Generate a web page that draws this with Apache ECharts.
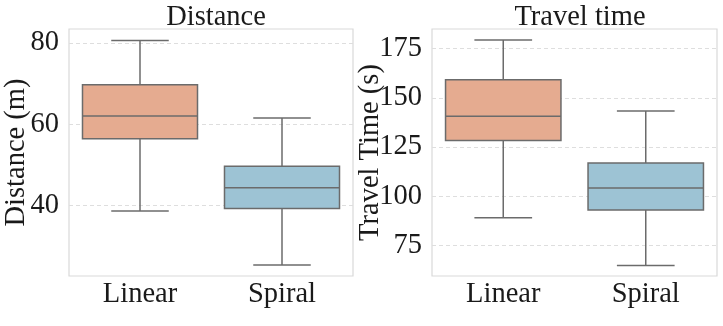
<!doctype html>
<html lang="en">
<head>
    <meta charset="utf-8">
    <title>Distance / Travel time</title>
    <style>
        html, body { margin: 0; padding: 0; background: #fff; }
    </style>
</head>
<body>

<div id="main" style="width:723px;height:326px;"></div>

<script src="https://cdn.jsdelivr.net/npm/echarts@6/dist/echarts.min.js"></script>

<script>

    var myChart = echarts.init(document.getElementById('main'));

    // categories
    var methods = ['Linear', 'Spiral'];
    var boxColors = ['#E5AB90', '#9DC3D4'];

    // [min, q1, median, q3, max]
    var distLinear = [38.6, 56.4, 62.0, 69.7, 80.6];
    var distSpiral = [25.3, 39.2, 44.3, 49.6, 61.5];
    var timeLinear = [89.0, 128.3, 140.6, 159.2, 179.4];
    var timeSpiral = [64.8, 93.0, 104.2, 116.9, 143.3];

    // tick labels
    var distTicks = [40, 60, 80];
    var timeTicks = [75, 100, 125, 150, 175];

    var font = '"Liberation Serif", "DejaVu Serif", serif';
    var fontSize = 28.5;
    var textColor = '#1a1a1a';
    var lineColor = '#6b6b6b';

    var toRows = function(lists) {
        var res = [];
        for (var i = 0; i < lists.length; i++) {
            res.push([i].concat(lists[i]));
        }
        return res;
    };

    // box + whiskers, caps at half box width
    var renderBox = function(params, api) {
        var cat = api.value(0);
        var pMin = api.coord([cat, api.value(1)]);
        var pQ1 = api.coord([cat, api.value(2)]);
        var pMed = api.coord([cat, api.value(3)]);
        var pQ3 = api.coord([cat, api.value(4)]);
        var pMax = api.coord([cat, api.value(5)]);
        var bw = api.size([1, 0])[0] * 0.81;
        var x = pMed[0];
        var st = { stroke: lineColor, lineWidth: 1.5 };
        return {
            type: 'group',
            children: [
                { type: 'line', shape: { x1: x, y1: pQ3[1], x2: x, y2: pMax[1] }, style: st },
                { type: 'line', shape: { x1: x, y1: pQ1[1], x2: x, y2: pMin[1] }, style: st },
                { type: 'line', shape: { x1: x - bw / 4, y1: pMax[1], x2: x + bw / 4, y2: pMax[1] }, style: st },
                { type: 'line', shape: { x1: x - bw / 4, y1: pMin[1], x2: x + bw / 4, y2: pMin[1] }, style: st },
                {
                    type: 'rect',
                    shape: { x: x - bw / 2, y: pQ3[1], width: bw, height: pQ1[1] - pQ3[1] },
                    style: { fill: boxColors[cat], stroke: lineColor, lineWidth: 1.5 }
                },
                { type: 'line', shape: { x1: x - bw / 2, y1: pMed[1], x2: x + bw / 2, y2: pMed[1] }, style: st }
            ]
        };
    };

    var makeX = function(idx) {
        return {
            type: 'category',
            gridIndex: idx,
            data: methods,
            axisLine: { show: false },
            axisTick: { show: false },
            axisLabel: { fontFamily: font, fontSize: fontSize, color: textColor, margin: 4 },
            splitLine: { show: false }
        };
    };

    var makeY = function(idx, name, min, max, ticks, gap) {
        return {
            type: 'value',
            gridIndex: idx,
            min: min,
            max: max,
            name: name,
            nameLocation: 'middle',
            nameGap: gap,
            nameMoveOverlap: false,
            nameTextStyle: { fontFamily: font, fontSize: fontSize, color: textColor },
            axisLine: { show: false },
            axisTick: { show: false, customValues: ticks },
            axisLabel: {
                fontFamily: font, fontSize: fontSize, color: textColor, margin: 10,
                customValues: ticks
            },
            splitLine: {
                show: true,
                lineStyle: { color: '#dedede', type: [4, 3], width: 1 }
            }
        };
    };

    var option = {
        backgroundColor: '#fff',
        animation: false,
        title: [{
            text: 'Distance',
            left: 211,
            textAlign: 'center',
            top: -2,
            textStyle: { fontFamily: font, fontSize: fontSize, fontWeight: 'normal', color: textColor }
        }, {
            text: 'Travel time',
            left: 575,
            textAlign: 'center',
            top: -2,
            textStyle: { fontFamily: font, fontSize: fontSize, fontWeight: 'normal', color: textColor }
        }],
        grid: [
            { left: 69, right: 370, top: 29, bottom: 50, outerBoundsMode: 'none', show: true, borderColor: '#d9d9d9', borderWidth: 1.2, backgroundColor: 'transparent' },
            { left: 432, right: 6, top: 29, bottom: 50, outerBoundsMode: 'none', show: true, borderColor: '#d9d9d9', borderWidth: 1.2, backgroundColor: 'transparent' }
        ],
        xAxis: [makeX(0), makeX(1)],
        yAxis: [
            makeY(0, 'Distance (m)', 22.6, 83.4, distTicks, 38),
            makeY(1, 'Travel Time (s)', 59.4, 185, timeTicks, 47)
        ],
        series: [{
            type: 'custom',
            xAxisIndex: 0,
            yAxisIndex: 0,
            renderItem: renderBox,
            encode: { x: 0, y: [1, 2, 3, 4, 5] },
            data: toRows([distLinear, distSpiral])
        }, {
            type: 'custom',
            xAxisIndex: 1,
            yAxisIndex: 1,
            renderItem: renderBox,
            encode: { x: 0, y: [1, 2, 3, 4, 5] },
            data: toRows([timeLinear, timeSpiral])
        }]
    };

    myChart.setOption(option);

</script>
</body>
</html>
